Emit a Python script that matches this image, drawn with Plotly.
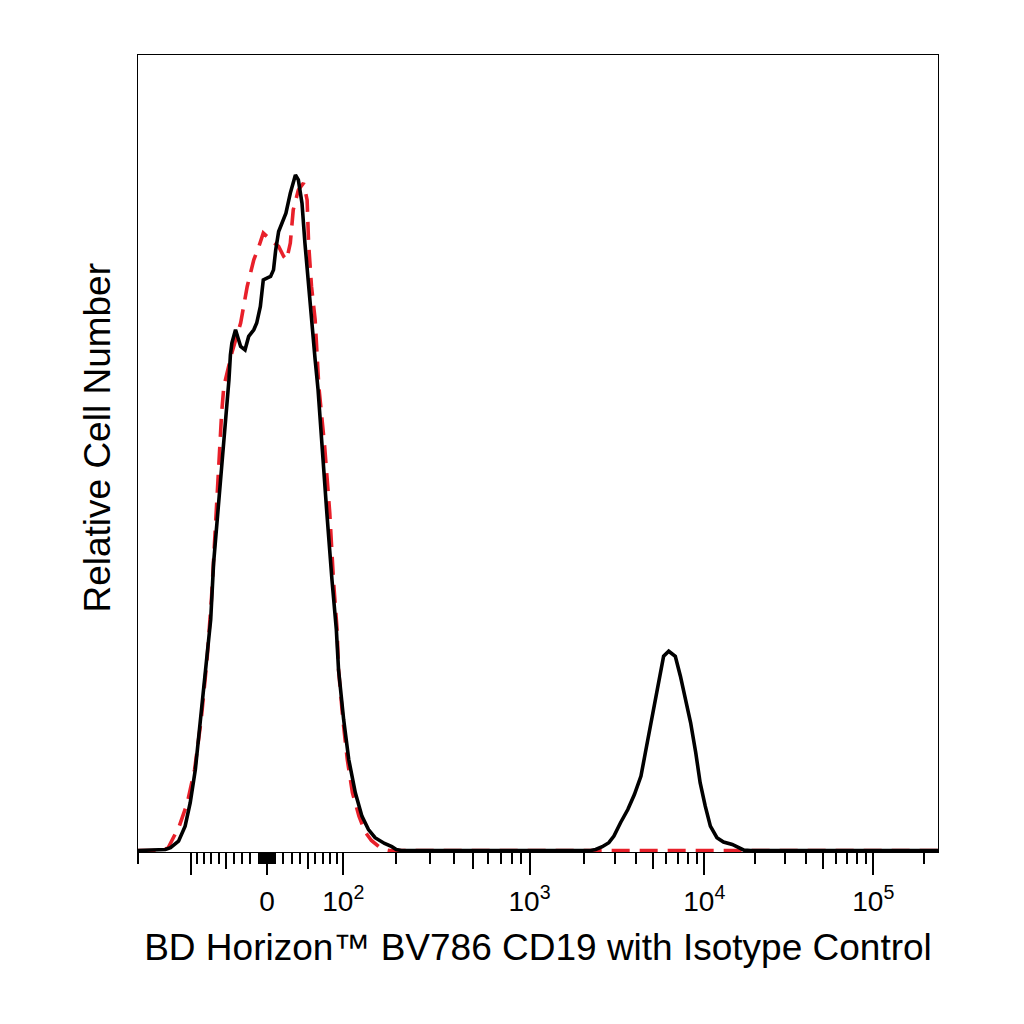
import numpy as np
import plotly.graph_objects as go

FONT = "Liberation Sans, Arial, sans-serif"

# biexponential (logicle-type) display scale of the cytometer software.
# display position u is in natural-log units, u = 0 at zero fluorescence
LIN_SCALE = 24.8
LOGICLE_P = 2.55

# histogram data, x = display position u, y = events per bin
cd19_u = [-1.77, -1.39, -1.32, -1.21, -1.12, -1.05, -0.98, -0.91, -0.84, -0.77,
          -0.73, -0.66, -0.59, -0.52, -0.50, -0.48, -0.43, -0.36, -0.30, -0.25,
          -0.18, -0.14, -0.09, -0.05, 0.00, 0.05, 0.09, 0.12, 0.16, 0.21,
          0.26, 0.32, 0.39, 0.43, 0.48, 0.52, 0.56, 0.60, 0.66, 0.70,
          0.75, 0.82, 0.89, 0.95, 0.98, 1.05, 1.12, 1.21, 1.30, 1.39,
          1.48, 1.61, 1.71, 1.77, 1.84, 4.43, 4.50, 4.59, 4.68, 4.75,
          4.84, 4.94, 5.03, 5.12, 5.18, 5.25, 5.32, 5.39, 5.43, 5.50,
          5.59, 5.66, 5.73, 5.80, 5.87, 5.93, 6.00, 6.07, 6.16, 6.25,
          6.37, 6.46, 6.53, 6.62, 9.25]
cd19_count = [0, 0.5, 1.4, 4.7, 12.2, 23.9, 40.5, 65.5, 90.5, 115.5,
              143.9, 173.9, 202.2, 235.5, 248, 253.9, 260.5, 252.2, 250.5, 257.2,
              260.5, 263.9, 272.2, 285.5, 286.4, 287.2, 290.5, 300.5, 309.7, 314.7,
              318.9, 328.9, 338, 335.5, 323.9, 303.9, 287.2, 265.5, 245.5, 230.5,
              202.2, 168.9, 135.5, 110.5, 90.5, 65.5, 45.5, 28.9, 17.2, 10.5,
              6.4, 3.5, 1.9, 0.5, 0, 0, 0.5, 1.9, 3.9, 7.2,
              13.9, 20.5, 28, 37.2, 48.9, 62.2, 77.2, 88.9, 97.2, 99.7,
              97.2, 87.2, 75.5, 63.9, 48.9, 33.9, 22.2, 12.2, 6.4, 4.2,
              3, 1.4, 0.2, 0, 0]

iso_u = [-1.77, -1.43, -1.35, -1.30, -1.20, -1.09, -0.99, -0.90, -0.82, -0.76,
         -0.72, -0.67, -0.62, -0.59, -0.48, -0.36, -0.27, -0.18, -0.11, -0.05,
         0.05, 0.16, 0.23, 0.27, 0.32, 0.36, 0.43, 0.50, 0.55, 0.57,
         0.61, 0.66, 0.71, 0.79, 0.86, 0.91, 0.96, 0.98, 1.04, 1.10,
         1.17, 1.26, 1.34, 1.43, 1.53, 1.60, 1.68, 9.25]
iso_count = [0, 0, 1.5, 5, 12.2, 23.8, 40.5, 65.5, 95.5, 125.5,
             155.5, 185.5, 218.9, 232.2, 249, 263.9, 282.2, 295.5, 302.2, 308.9,
             305.5, 302.2, 297.2, 295.5, 303.9, 320.5, 330.5, 333.9, 325.5, 303.9,
             282.2, 265.5, 232.2, 202.2, 168.9, 135.5, 110.5, 90.5, 65.5, 45.5,
             28.9, 17.2, 9.5, 5, 2, 0.5, 0, 0]

# axis ticks, in fluorescence units
major_vals = [-100, 0, 100, 1e3, 1e4, 1e5]
major_text = ["", "0", "10<sup>2</sup>", "10<sup>3</sup>", "10<sup>4</sup>", "10<sup>5</sup>"]
medium_vals = [-50, 50, 500, 5e3, 5e4]
near_zero = [v for v in range(1, 100) if (v < 10) or (v % 10 == 0 and v != 50)]
minor_vals = ([-200] + [-v for v in near_zero] + near_zero
              + [m * 10 ** e for e in (2, 3, 4) for m in (2, 3, 4, 6, 7, 8, 9)]
              + [2e5])

x_range = [-1.765, 9.186]
y_range = [-0.75, 398]


def biex_value(u):
    """fluorescence value shown at display position u"""
    u = np.asarray(u, dtype=float)
    a = np.abs(u)
    p2 = LOGICLE_P ** 2
    return np.sign(u) * LIN_SCALE * (np.exp(a) - p2 * np.exp(-a / LOGICLE_P) + p2 - 1)


def biex_display(v):
    """display position of fluorescence value v (numerical inverse)"""
    grid = np.linspace(-4, 11, 30001)
    return np.interp(v, biex_value(grid), grid).tolist()


fig = go.Figure()
fig.add_trace(go.Scatter(x=iso_u, y=iso_count, mode="lines",
                         line=dict(color="#e8202a", width=3.6, dash="18px,10px"),
                         name="Isotype Control", hoverinfo="skip"))
fig.add_trace(go.Scatter(x=cd19_u, y=cd19_count, mode="lines",
                         line=dict(color="black", width=3.6),
                         name="CD19", hoverinfo="skip"))
# empty trace so the overlay axis carrying the mid-length ticks is drawn
fig.add_trace(go.Scatter(x=[], y=[], xaxis="x2", showlegend=False))

fig.update_layout(
    width=1024, height=1024,
    margin=dict(l=130, r=94, t=47, b=180),
    paper_bgcolor="white", plot_bgcolor="white",
    showlegend=False,
    font=dict(family=FONT, color="black"),
    xaxis=dict(
        range=x_range, tickmode="array",
        tickvals=biex_display(major_vals), ticktext=major_text,
        ticks="outside", ticklen=22, tickwidth=2, tickcolor="black",
        tickfont=dict(size=28, color="black"), ticklabelstandoff=2,
        showgrid=False, zeroline=False,
        showline=True, linecolor="black", linewidth=1.3, mirror=True,
        minor=dict(tickmode="array", tickvals=biex_display(minor_vals),
                   ticks="outside", ticklen=11, tickwidth=2, tickcolor="black",
                   showgrid=False),
        title=dict(text="BD Horizon\u2122 BV786 CD19 with Isotype Control",
                   font=dict(size=37, color="black"), standoff=18),
        automargin=False,
    ),
    xaxis2=dict(
        overlaying="x", matches="x", anchor="y", side="bottom",
        tickmode="array", tickvals=biex_display(medium_vals),
        ticks="outside", ticklen=16, tickwidth=2, tickcolor="black",
        showticklabels=False, showline=False, showgrid=False, zeroline=False,
    ),
    yaxis=dict(
        range=y_range, showticklabels=False, ticks="",
        showgrid=False, zeroline=False,
        showline=True, linecolor="black", linewidth=1.3, mirror=True,
        automargin=False,
    ),
    annotations=[dict(
        text="Relative Cell Number", textangle=-90,
        xref="paper", yref="paper", x=0, y=0.52, xshift=-40,
        xanchor="center", yanchor="middle", showarrow=False,
        font=dict(size=37, color="black"),
    )],
)

fig.write_html("out.html")
